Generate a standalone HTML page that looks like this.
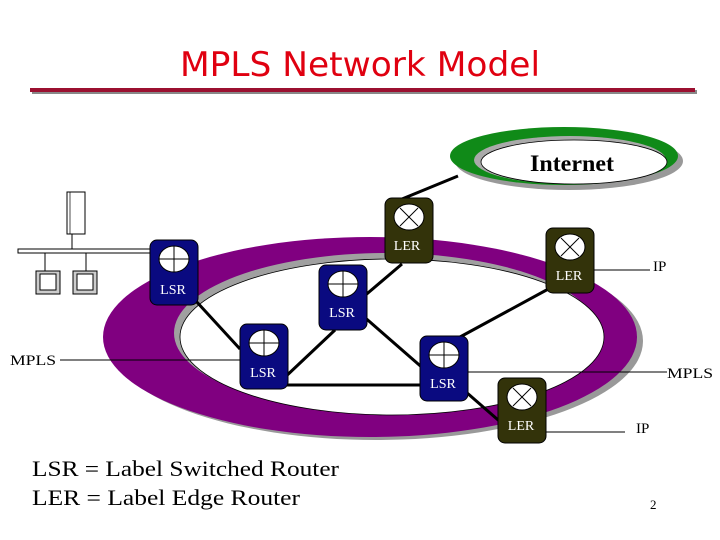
<!DOCTYPE html>
<html><head><meta charset="utf-8"><style>
html,body{margin:0;padding:0;background:#fff;}
svg{display:block;}
</style></head><body>
<svg width="720" height="540" viewBox="0 0 720 540" xmlns="http://www.w3.org/2000/svg">
<defs>
<g id="lsr">
<rect x="0" y="0" width="48" height="65" rx="7" fill="#0a0a80" stroke="#000" stroke-width="1"/>
<ellipse cx="24" cy="19" rx="15" ry="13" fill="#fff" stroke="#000"/>
<line x1="9" y1="19" x2="39" y2="19" stroke="#000"/><line x1="24" y1="6" x2="24" y2="32" stroke="#000"/>
</g>
<g id="ler">
<rect x="0" y="0" width="48" height="65" rx="7" fill="#33330a" stroke="#000" stroke-width="1"/>
<ellipse cx="24" cy="19" rx="15" ry="13" fill="#fff" stroke="#000"/>
<line x1="15" y1="10" x2="33" y2="28" stroke="#000"/><line x1="33" y1="10" x2="15" y2="28" stroke="#000"/>
</g>
</defs>
<text x="180" y="76" textLength="360" lengthAdjust="spacingAndGlyphs" font-family="'DejaVu Sans','Liberation Sans',sans-serif" font-size="34" fill="#e00010">MPLS Network Model</text>
<line x1="32" y1="92" x2="697" y2="92" stroke="#888" stroke-width="4"/>
<line x1="30" y1="90" x2="695" y2="90" stroke="#9b1030" stroke-width="4"/>

<ellipse cx="376" cy="341" rx="267" ry="99" fill="#999"/>
<ellipse cx="370" cy="337" rx="267" ry="100" fill="#800080"/>
<ellipse cx="386" cy="333" rx="212" ry="80" fill="#a0a0a0"/>
<ellipse cx="392" cy="337" rx="212" ry="78" fill="#fff" stroke="#000" stroke-width="0.8"/>

<ellipse cx="569" cy="161" rx="114" ry="29" fill="#999"/>
<ellipse cx="564" cy="156" rx="114" ry="29" fill="#108a18"/>
<ellipse cx="570" cy="160" rx="96" ry="24" fill="#aaa"/>
<ellipse cx="574" cy="162" rx="93" ry="22" fill="#fff" stroke="#000" stroke-width="0.8"/>
<text x="530" y="171" textLength="84" lengthAdjust="spacingAndGlyphs" font-family="'Liberation Serif',serif" font-size="23" font-weight="bold" fill="#000">Internet</text>

<g stroke="#000" stroke-width="3">
<line x1="458" y1="176" x2="402" y2="199"/>
<line x1="402" y1="264" x2="362" y2="298"/>
<line x1="195" y1="300" x2="240" y2="349"/>
<line x1="335" y1="330" x2="282" y2="380"/>
<line x1="285" y1="385" x2="420" y2="385"/>
<line x1="362" y1="315" x2="425" y2="370"/>
<line x1="460" y1="337" x2="552" y2="287"/>
<line x1="466" y1="392" x2="505" y2="426"/>
</g>
<g stroke="#000" stroke-width="1">
<line x1="60" y1="360" x2="265" y2="360"/>
<line x1="466" y1="372" x2="667" y2="372"/>
<line x1="594" y1="270" x2="650" y2="270"/>
<line x1="540" y1="432" x2="625" y2="432"/>
</g>

<rect x="67" y="192" width="18" height="42" fill="#fff" stroke="#000"/>
<line x1="70" y1="192" x2="70" y2="234" stroke="#000" stroke-width="0.7"/>
<line x1="72" y1="234" x2="72" y2="251" stroke="#000"/>
<rect x="18" y="249" width="132" height="4" fill="#fff" stroke="#000" stroke-width="1"/>
<line x1="45" y1="253" x2="45" y2="271" stroke="#000"/>
<line x1="86" y1="253" x2="86" y2="271" stroke="#000"/>
<rect x="36" y="271" width="24" height="23" fill="#ccc" stroke="#000"/>
<rect x="40" y="274" width="16" height="16" fill="#fff" stroke="#000"/>
<rect x="73" y="271" width="24" height="23" fill="#ccc" stroke="#000"/>
<rect x="77" y="274" width="16" height="16" fill="#fff" stroke="#000"/>

<use href="#ler" x="385" y="198"/>
<use href="#ler" x="546" y="228"/>
<use href="#lsr" x="150" y="240"/>
<use href="#lsr" x="319" y="265"/>
<use href="#lsr" x="240" y="324"/>
<use href="#lsr" x="420" y="336"/>
<use href="#ler" x="498" y="378"/>
<g font-family="'Liberation Serif',serif" font-size="14" fill="#fff" text-anchor="middle">
<text x="407" y="250">LER</text>
<text x="569" y="280">LER</text>
<text x="173" y="294">LSR</text>
<text x="342" y="317">LSR</text>
<text x="263" y="377">LSR</text>
<text x="443" y="388">LSR</text>
<text x="521" y="430">LER</text>
</g>
<g font-family="'Liberation Serif',serif" font-size="15" fill="#000">
<text x="10" y="365" textLength="46" lengthAdjust="spacingAndGlyphs">MPLS</text>
<text x="667" y="378" textLength="46" lengthAdjust="spacingAndGlyphs">MPLS</text>
<text x="653" y="271">IP</text>
<text x="636" y="433">IP</text>
<text x="650" y="509" font-size="13">2</text>
</g>
<g font-family="'Liberation Serif',serif" font-size="22" fill="#000">
<text x="32" y="476" textLength="307" lengthAdjust="spacingAndGlyphs">LSR = Label Switched Router</text>
<text x="32" y="505" textLength="268" lengthAdjust="spacingAndGlyphs">LER = Label Edge Router</text>
</g>
</svg>
</body></html>
